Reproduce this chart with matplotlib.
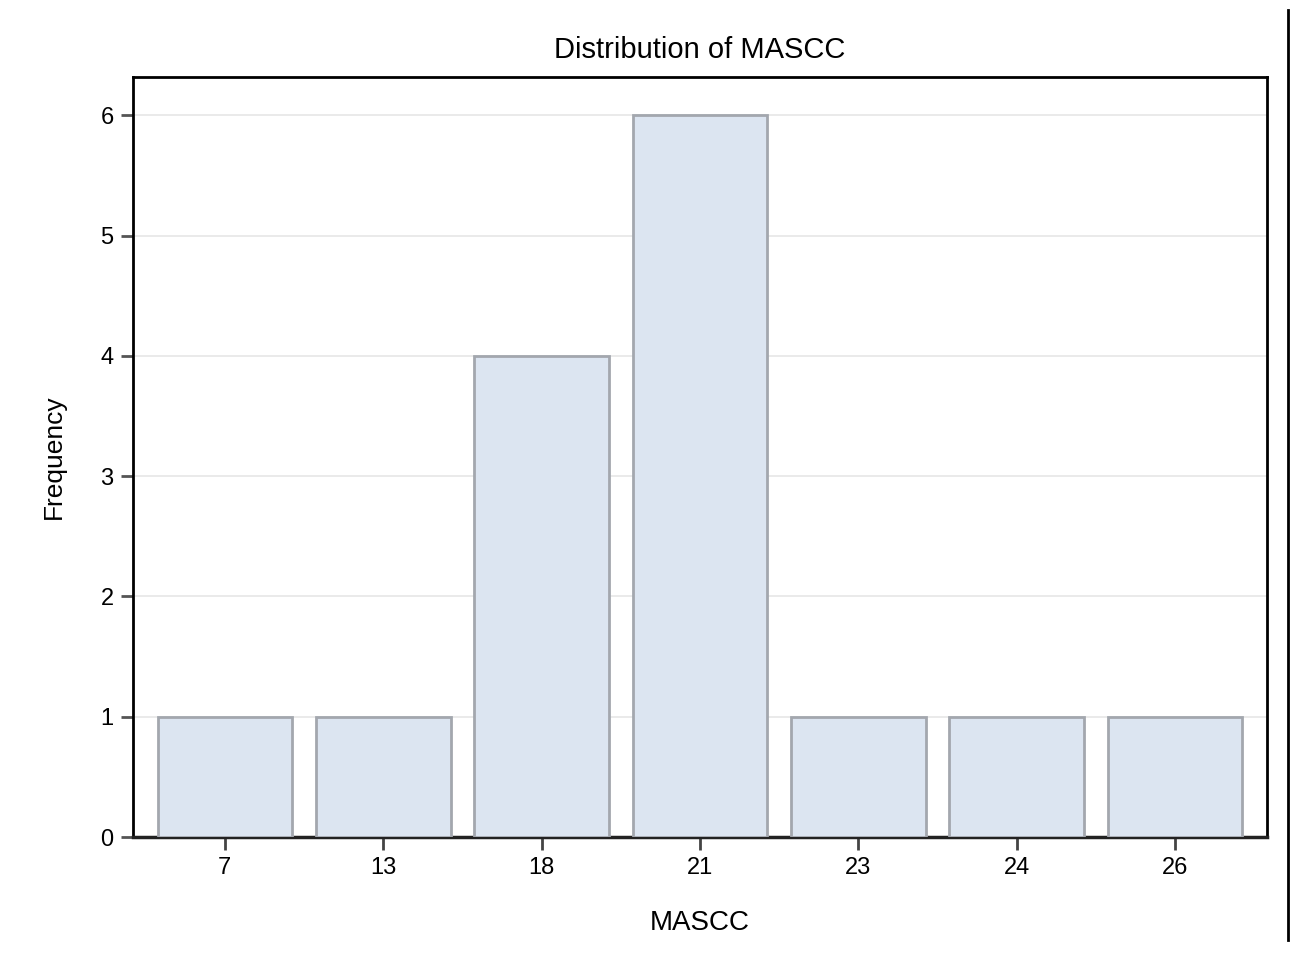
import matplotlib
matplotlib.use("Agg")
import matplotlib.pyplot as plt
from matplotlib.lines import Line2D

categories = ["7", "13", "18", "21", "23", "24", "26"]
frequency = [1, 1, 4, 6, 1, 1, 1]
yticks = [0, 1, 2, 3, 4, 5, 6]

plt.rcParams['font.family'] = ['Liberation Sans', 'DejaVu Sans']

fig = plt.figure(figsize=(12.92, 9.61), dpi=100)
ax = fig.add_axes([133/1292, 1-837/961, (1267-133)/1292, (837-77)/961])

x = list(range(len(categories)))
ax.bar(x, frequency, width=0.85, color="#DCE5F1", edgecolor="#A3A7AE", linewidth=2, zorder=3)

ax.set_xlim(-0.58, 6.58)
ax.set_ylim(0, 6.32)
ax.set_xticks(x)
ax.set_xticklabels(categories)
ax.set_yticks(yticks)
ax.yaxis.grid(True, color="#E6E6E6", linewidth=1.2, zorder=0)
ax.set_axisbelow(True)

for s in ["left", "top", "right"]:
    ax.spines[s].set_linewidth(2)
    ax.spines[s].set_color("black")
ax.spines["bottom"].set_linewidth(2.5)
ax.spines["bottom"].set_color("#222222")

ax.tick_params(axis="y", length=9, width=2, color="#555555", labelsize=17, pad=5)
ax.tick_params(axis="x", length=9.5, width=2, color="#444444", labelsize=17, pad=5)

ax.set_title("Distribution of MASCC", fontsize=21, pad=14)
ax.set_xlabel("MASCC", fontsize=20, labelpad=22)
ax.set_ylabel("Frequency", fontsize=19, labelpad=25)

fig.add_artist(Line2D([1288/1292, 1288/1292], [1-10/961, 1-940/961], transform=fig.transFigure, color="black", linewidth=2))

fig.savefig("out.png", dpi=100)
